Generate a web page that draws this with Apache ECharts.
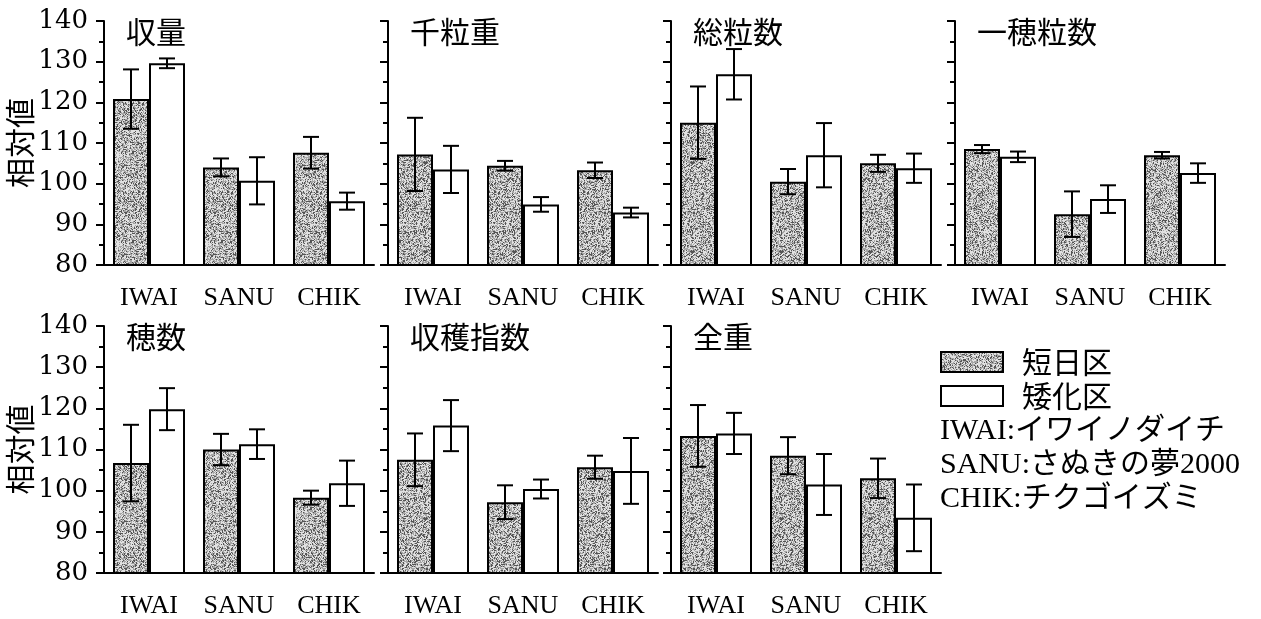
<!DOCTYPE html>
<html>
<head>
<meta charset="utf-8">
<script src="https://cdn.jsdelivr.net/npm/echarts@6/dist/echarts.min.js"></script>
<style>
  html, body { margin: 0; padding: 0; background: #fff; }
  #chart { width: 1261px; height: 619px; }
</style>
</head>
<body>
<div id="chart"></div>
<script>
// categories and panel names
var categories = ['IWAI', 'SANU', 'CHIK'];
var panelTitles = ['収量', '千粒重', '総粒数', '一穂粒数', '穂数', '収穫指数', '全重'];
var seriesNames = ['短日区', '矮化区'];
var yTicks = { min: 80, max: 140, interval: 10 };

// 短日区 (grey) means / error per panel, in category order
var shortMean = [
  [120.8, 104.0, 107.6],
  [107.2, 104.4, 103.3],
  [115.0, 100.5, 105.0],
  [108.5, 92.5, 107.0],
  [106.7, 110.0, 98.3],
  [107.5, 97.2, 105.7],
  [113.3, 108.5, 103.0]
];
var shortErr = [
  [7.3, 2.2, 3.9],
  [9.0, 1.2, 1.9],
  [8.9, 3.1, 2.1],
  [1.0, 5.6, 0.8],
  [9.3, 3.8, 1.7],
  [6.4, 4.1, 2.8],
  [7.5, 4.5, 4.8]
];
// 矮化区 (white)
var dwarfMean = [
  [129.6, 100.7, 95.7],
  [103.5, 94.9, 92.9],
  [126.9, 107.0, 103.8],
  [106.6, 96.2, 102.6],
  [119.8, 111.3, 101.8],
  [115.8, 100.4, 104.8],
  [113.9, 101.5, 93.4]
];
var dwarfErr = [
  [1.2, 5.8, 2.1],
  [5.8, 1.8, 1.2],
  [6.2, 7.9, 3.6],
  [1.3, 3.4, 2.4],
  [5.1, 3.6, 5.5],
  [6.2, 2.3, 8.0],
  [5.0, 7.4, 8.1]
];
var cultivarNote = 'IWAI:イワイノダイチ\nSANU:さぬきの夢2000\nCHIK:チクゴイズミ';

// stippled grey fill like the printed figure
function stipple() {
  var n = 89;
  var c = document.createElement('canvas');
  c.width = n; c.height = n;
  var ctx = c.getContext('2d');
  var img = ctx.createImageData(n, n);
  for (var i = 0; i < n * n; i++) {
    var h = Math.imul(i + 1, 2654435761) >>> 0;
    h ^= h >>> 15; h = Math.imul(h, 2246822519) >>> 0; h ^= h >>> 13;
    var t = (h & 1023) / 1023;
    var g = t < 0.22 ? 85 : (t < 0.58 ? 165 : 225);
    img.data[i * 4] = g; img.data[i * 4 + 1] = g; img.data[i * 4 + 2] = g; img.data[i * 4 + 3] = 255;
  }
  ctx.putImageData(img, 0, 0);
  return { image: c, repeat: 'repeat' };
}
var greyFill = stipple();

var colLeft = [104, 388, 671, 955];
var rowTop = [21, 326];
var rowHeight = [244, 247];
var cjk = 'Noto Sans CJK JP';
var latin = 'Liberation Serif';

function errorBars(params, api) {
  var x = api.value(0), v = api.value(1), e = api.value(2), side = api.value(3);
  var band = api.size([1, 0])[0];
  var cx = api.coord([x, v])[0] + side * 0.2 * band;
  var top = api.coord([x, v + e])[1];
  var bot = api.coord([x, v - e])[1];
  var hw = 8;
  var st = { stroke: '#000', lineWidth: 2 };
  return {
    type: 'group',
    children: [
      { type: 'line', shape: { x1: cx, y1: top, x2: cx, y2: bot }, style: st },
      { type: 'line', shape: { x1: cx - hw, y1: top, x2: cx + hw, y2: top }, style: st },
      { type: 'line', shape: { x1: cx - hw, y1: bot, x2: cx + hw, y2: bot }, style: st }
    ]
  };
}

var grids = [], xAxes = [], yAxes = [], series = [], titles = [];
panelTitles.forEach(function (name, i) {
  var row = Math.floor(i / 4), col = i % 4;
  var first = col === 0;
  grids.push({ left: colLeft[col], top: rowTop[row], width: 270, height: rowHeight[row] });
  xAxes.push({
    type: 'category', gridIndex: i, data: categories,
    axisLine: { lineStyle: { color: '#000', width: 2 } },
    axisTick: { alignWithLabel: true, interval: 0, length: 10, lineStyle: { color: '#000', width: 2 } },
    axisLabel: { interval: 0, color: '#000', fontSize: 26, fontFamily: latin, margin: 20 }
  });
  yAxes.push({
    type: 'value', gridIndex: i, min: yTicks.min, max: yTicks.max, interval: yTicks.interval,
    name: first ? '相対値' : '', nameLocation: 'middle', nameGap: 66,
    nameTextStyle: { color: '#000', fontSize: 30, fontFamily: cjk },
    axisLine: { show: true, lineStyle: { color: '#000', width: 2 } },
    axisTick: { show: true, length: 8, lineStyle: { color: '#000', width: 2 } },
    minorTick: { show: true, splitNumber: 2, length: 5, lineStyle: { color: '#000', width: 2 } },
    splitLine: { show: false },
    axisLabel: { show: first, color: '#000', fontSize: 26, fontFamily: 'DejaVu Serif', margin: 16 }
  });
  titles.push({
    text: name, left: colLeft[col] + 17, top: rowTop[row] - 9,
    textStyle: { color: '#000', fontSize: 30, fontWeight: 'normal', fontFamily: cjk }
  });
  var groups = [
    { mean: shortMean[i], err: shortErr[i], side: -1, color: greyFill },
    { mean: dwarfMean[i], err: dwarfErr[i], side: 1, color: '#fff' }
  ];
  groups.forEach(function (g, k) {
    series.push({
      name: seriesNames[k], type: 'bar', xAxisIndex: i, yAxisIndex: i,
      barGap: '0%', barCategoryGap: '20%',
      itemStyle: { color: g.color, borderColor: '#000', borderWidth: 2 },
      data: g.mean
    });
  });
  groups.forEach(function (g) {
    series.push({
      type: 'custom', xAxisIndex: i, yAxisIndex: i, z: 5,
      renderItem: errorBars, encode: { x: 0, y: 1 },
      data: g.mean.map(function (m, j) { return [j, m, g.err[j], g.side]; })
    });
  });
});

titles.push({
  text: cultivarNote, left: 940, top: 414, padding: 0,
  textStyle: { color: '#000', fontSize: 30, fontWeight: 'normal', lineHeight: 34, fontFamily: latin + ', ' + cjk }
});

var chart = echarts.init(document.getElementById('chart'));
chart.setOption({
  backgroundColor: '#fff',
  animation: false,
  title: titles,
  legend: {
    orient: 'vertical', left: 940, top: 347, padding: 0,
    itemWidth: 62, itemHeight: 20, itemGap: 4,
    textStyle: { color: '#000', fontSize: 30, fontFamily: cjk, padding: [0, 0, 0, 14] },
    data: [
      { name: seriesNames[0], icon: 'rect', itemStyle: { color: greyFill, borderColor: '#000', borderWidth: 2 } },
      { name: seriesNames[1], icon: 'rect', itemStyle: { color: '#fff', borderColor: '#000', borderWidth: 2 } }
    ]
  },
  grid: grids,
  xAxis: xAxes,
  yAxis: yAxes,
  series: series
});
</script>
</body>
</html>
